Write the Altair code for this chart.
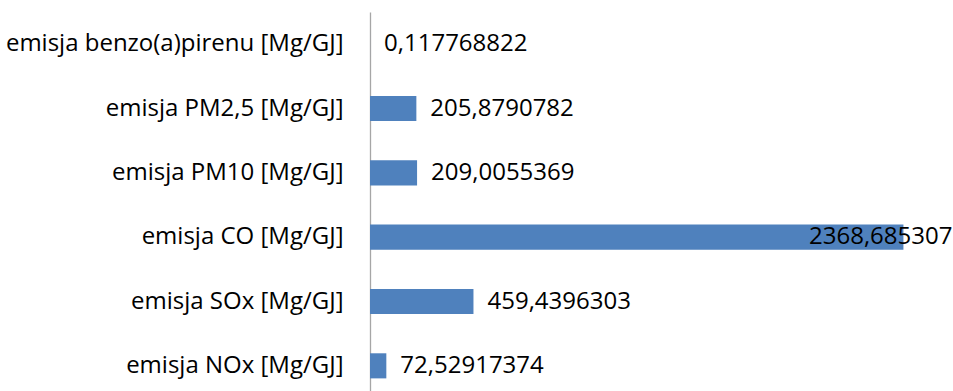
import altair as alt
import pandas as pd

categories = [
    "emisja benzo(a)pirenu [Mg/GJ]",
    "emisja PM2,5 [Mg/GJ]",
    "emisja PM10 [Mg/GJ]",
    "emisja CO [Mg/GJ]",
    "emisja SOx [Mg/GJ]",
    "emisja NOx [Mg/GJ]",
]
values = [0.117768822, 205.8790782, 209.0055369, 2368.685307, 459.4396303, 72.52917374]
labels = ["0,117768822", "205,8790782", "209,0055369", "2368,685307", "459,4396303", "72,52917374"]

df = pd.DataFrame({"cat": categories, "val": values, "lab": labels})

FONT = "Open Sans"
FS = 24

y = alt.Y("cat:N", sort=categories, title=None,
          scale=alt.Scale(paddingInner=0.61, paddingOuter=0.305),
          axis=alt.Axis(ticks=False, labelPadding=27, labelFont=FONT, labelFontSize=FS,
                        labelColor="#000000", domainColor="#A6A6A6", domainWidth=1.3,
                        labelLimit=400))
x = alt.X("val:Q", title=None, scale=alt.Scale(domain=[0, 2500], nice=False, zero=True),
          axis=None)

bars = alt.Chart(df).mark_bar(color="#4F81BD").encode(x=x, y=y)

text_out = alt.Chart(df).transform_filter("datum.val < 2000").mark_text(
    align="left", baseline="middle", dx=14, font=FONT, fontSize=FS, color="#000000"
).encode(x=x, y=y, text="lab:N")

text_in = alt.Chart(df).transform_filter("datum.val >= 2000").mark_text(
    align="right", baseline="middle", dx=49, font=FONT, fontSize=FS, color="#000000"
).encode(x=x, y=y, text="lab:N")

chart = (bars + text_out + text_in).properties(
    width=563, height=386,
    autosize=alt.AutoSizeParams(type="none"),
    padding={"left": 370, "top": 12, "right": 20, "bottom": 0},
    background="#FFFFFF",
).configure_view(stroke=None)

chart.save("out.html", embed_options={"renderer": "svg", "actions": False})
